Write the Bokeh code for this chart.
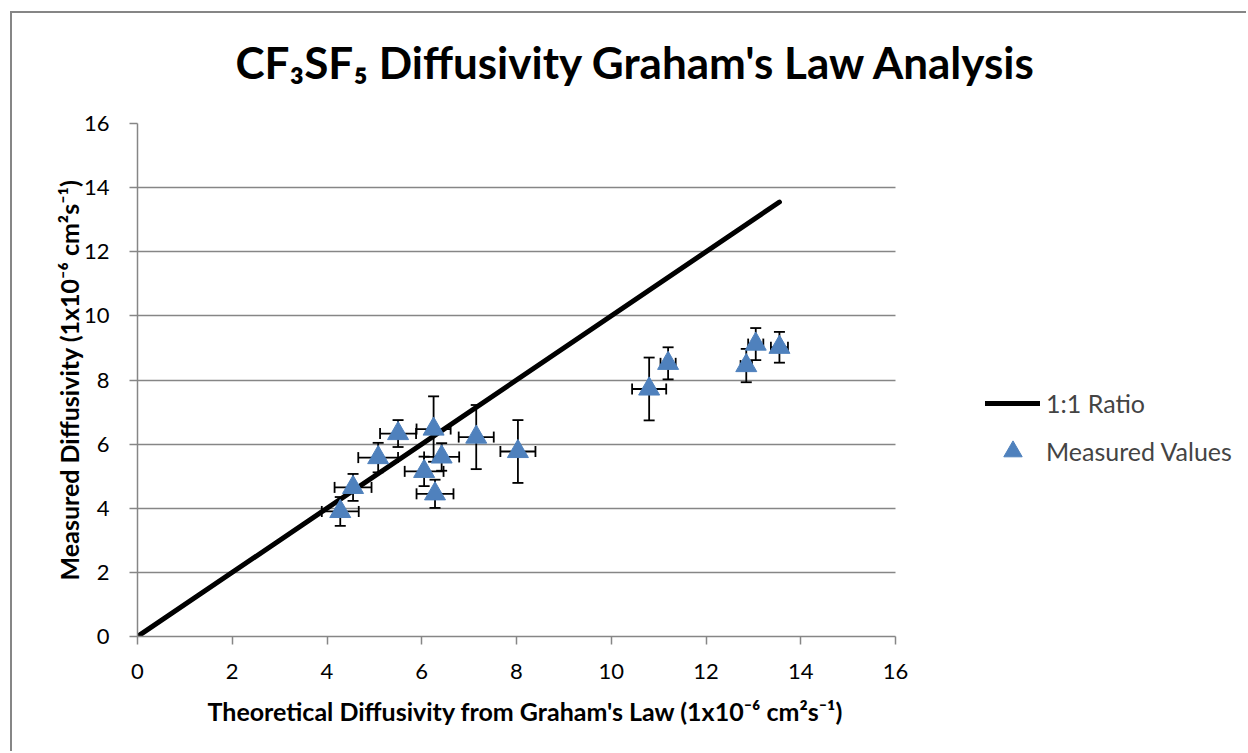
from bokeh.plotting import figure
from bokeh.models import (ColumnDataSource, Whisker, TeeHead, Legend, LegendItem,
                          SingleIntervalTicker, Range1d, BoxAnnotation, Title)
from bokeh.embed import file_html
from bokeh.resources import INLINE

# ---- data ----
theoretical = [4.28, 4.55, 5.08, 5.50, 6.05, 6.25, 6.28, 6.42, 7.15, 8.03, 10.80, 11.20, 12.85, 13.05, 13.55]
measured    = [3.90, 4.65, 5.58, 6.33, 5.15, 6.47, 4.45, 5.60, 6.22, 5.77, 7.72, 8.52, 8.45, 9.12, 9.02]
x_err       = [0.39, 0.39, 0.42, 0.38, 0.41, 0.36, 0.39, 0.37, 0.37, 0.37, 0.36, 0.16, 0.12, 0.16, 0.18]
y_err       = [0.45, 0.42, 0.46, 0.42, 0.46, 1.02, 0.44, 0.43, 1.00, 0.98, 0.98, 0.50, 0.52, 0.50, 0.48]
ratio_x = [0.0, 13.55]
ratio_y = [0.0, 13.55]
axis_max = 16

title_text = "CF\u2083SF\u2085 Diffusivity Graham's Law Analysis"
x_label = "Theoretical Diffusivity from Graham's Law (1x10\u207b\u2076 cm\u00b2s\u207b\u00b9)"
y_label = "Measured Diffusivity (1x10\u207b\u2076 cm\u00b2s\u207b\u00b9)"

FONT = "Lato"
GRAY = "#868686"
BLUE = "#4F81BD"

# layout (pixels)
W, H = 1246, 751
LEFT, TOP = 137, 123
BOTTOM = H - 636
PLOT_PX = 758                      # pixel width of the 0..16 data area
frame_px = W - LEFT
x_end = axis_max * frame_px / PLOT_PX  # frame extends right to hold the legend

src = ColumnDataSource(dict(
    x=theoretical, y=measured,
    xl=[a - e for a, e in zip(theoretical, x_err)],
    xu=[a + e for a, e in zip(theoretical, x_err)],
    yl=[a - e for a, e in zip(measured, y_err)],
    yu=[a + e for a, e in zip(measured, y_err)],
))

p = figure(width=W, height=H, output_backend="svg", toolbar_location=None,
           x_range=Range1d(0, x_end), y_range=Range1d(0, axis_max),
           min_border_left=LEFT, min_border_right=0, min_border_top=TOP, min_border_bottom=BOTTOM)
# chart-area border (left and top edges), drawn as CSS background behind a transparent canvas
p.styles = {"background": (f"linear-gradient({GRAY},{GRAY}) 10px 11px / 2px calc(100% - 11px) no-repeat, "
                           f"linear-gradient({GRAY},{GRAY}) 10px 11px / calc(100% - 10px) 2px no-repeat, "
                           "white")}
p.outline_line_color = None
p.background_fill_color = "white"
p.border_fill_color = None

# title
p.title.text = title_text
p.title.text_font = FONT
p.title.text_font_size = "44px"
p.title.text_font_style = "bold"
p.title.text_color = "black"
p.title.align = "left"
p.title.vertical_align = "top"
p.title.offset = 98
p.title.standoff = 68

# axes
for ax in (p.xaxis[0], p.yaxis[0]):
    ax.ticker = SingleIntervalTicker(interval=2)
    ax.bounds = (0, axis_max)
    ax.minor_tick_line_color = None
    ax.major_tick_in = 0
    ax.major_tick_out = 8
    ax.axis_line_color = GRAY
    ax.axis_line_width = 1.5
    ax.major_tick_line_color = GRAY
    ax.major_tick_line_width = 1.5
    ax.major_label_text_font = FONT
    ax.major_label_text_font_size = "22px"
    ax.major_label_text_color = "black"
    ax.axis_label_text_font = FONT
    ax.axis_label_text_font_size = "25px"
    ax.axis_label_text_font_style = "bold"
    ax.axis_label_text_color = "black"
p.yaxis.axis_label = y_label
p.xaxis.major_label_standoff = 19
p.yaxis.major_label_standoff = 20
p.yaxis.axis_label_standoff = -3

xt = Title(text=x_label, text_font=FONT, text_font_size="25px", text_font_style="bold",
           text_color="black", align="left", offset=70, vertical_align="top", standoff=28)
p.add_layout(xt, "below")

p.xgrid.grid_line_color = None
p.ygrid.ticker = SingleIntervalTicker(interval=2)
p.ygrid.grid_line_color = GRAY
p.ygrid.grid_line_width = 1.5

# blank the area right of the data region (holds the legend)
mask = BoxAnnotation(left=axis_max, fill_color="white", fill_alpha=1.0,
                     line_color=None, level="underlay")
p.add_layout(mask)

# error bars
def tee():
    return TeeHead(size=11, line_width=1.8, line_color="black")

yw = Whisker(source=src, base="x", lower="yl", upper="yu", dimension="height",
             line_color="black", line_width=1.8, level="underlay",
             upper_head=tee(), lower_head=tee())
xw = Whisker(source=src, base="y", lower="xl", upper="xu", dimension="width",
             line_color="black", line_width=1.8, level="underlay",
             upper_head=tee(), lower_head=tee())
p.add_layout(yw)
p.add_layout(xw)

line_r = p.line(ratio_x, ratio_y, line_color="black", line_width=5, line_cap="round")
pts_r = p.scatter("x", "y", source=src, marker="triangle", size=21,
                  fill_color=BLUE, line_color=BLUE, line_width=1)

legend = Legend(items=[LegendItem(label="1:1 Ratio", renderers=[line_r]),
                       LegendItem(label="Measured Values", renderers=[pts_r])],
                location=(848, 162), padding=0, spacing=2, margin=0,
                glyph_width=55, glyph_height=46, label_height=46, label_standoff=6,
                label_text_font=FONT, label_text_font_size="25px",
                border_line_color=None, background_fill_alpha=0)
p.add_layout(legend, "center")

open("out.html", "w").write(file_html(p, INLINE))
